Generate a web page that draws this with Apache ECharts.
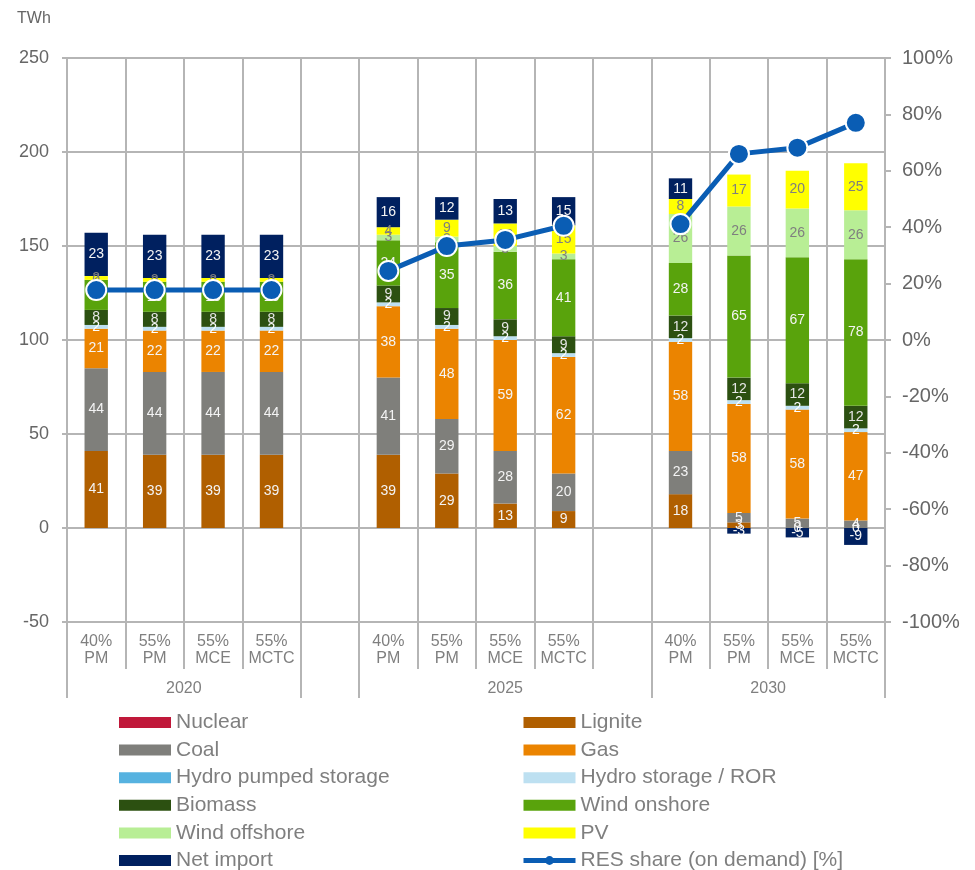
<!DOCTYPE html>
<html>
<head>
<meta charset="utf-8">
<script src="https://cdn.jsdelivr.net/npm/echarts@6/dist/echarts.min.js"></script>
<style>html,body{margin:0;padding:0;background:#fff}#c{width:975px;height:870px}</style>
</head>
<body>
<div id="c"></div>
<script>
// ---- data ----
const scenarios = ['40%\nPM','55%\nPM','55%\nMCE','55%\nMCTC','','40%\nPM','55%\nPM','55%\nMCE','55%\nMCTC','','40%\nPM','55%\nPM','55%\nMCE','55%\nMCTC'];
const yearGroups = ['2020','2025','2030'];
const nuclear      = [0,0,0,0,null,0,0,0,0,null,0,0,0,0];
const lignite      = [41,39,39,39,null,39,29,13,9,null,18,3,0,0];
const coal         = [44,44,44,44,null,41,29,28,20,null,23,5,5,4];
const gas          = [21,22,22,22,null,38,48,59,62,null,58,58,58,47];
const hydroPumped  = [0,0,0,0,null,0,0,0,0,null,0,0,0,0];
const hydroRor     = [2,2,2,2,null,2,2,2,2,null,2,2,2,2];
const biomass      = [8,8,8,8,null,9,9,9,9,null,12,12,12,12];
const windOnshore  = [16,16,16,16,null,24,35,36,41,null,28,65,67,78];
const windOffshore = [0,0,0,0,null,3,3,3,3,null,26,26,26,26];
const pv           = [2,2,2,2,null,4,9,12,15,null,8,17,20,25];
const netImport    = [23,23,23,23,null,16,12,13,15,null,11,-3,-5,-9];
const resShare     = [17.7,17.7,17.7,17.7,null,24.5,33.3,35.5,40.5,null,41.1,66.0,68.2,77.0];

// group axis (half-slot resolution, boundaryGap false)
const groupAxisData = Array(29).fill('');
groupAxisData[4] = yearGroups[0];
groupAxisData[15] = yearGroups[1];
groupAxisData[24] = yearGroups[2];
const groupTicks = [0,8,10,20,28];

const FONT = 'Liberation Sans, Arial, sans-serif';
const GRID = '#b5b5b5';
const TXT = '#7f7f7f';
const LINE = '#0a5db4';

function barSeries(name, data, color, labelColor, showLabel) {
  return {
    name, type: 'bar', stack: 'total', data, barWidth: '40%',
    itemStyle: { color },
    label: {
      show: showLabel, position: 'inside', color: labelColor,
      fontSize: 14, fontFamily: FONT,
      formatter: p => (p.value === null || p.value === undefined) ? '' : String(p.value)
    },
    emphasis: { disabled: true }
  };
}

const legendCommon = {
  orient: 'vertical', top: 707, height: 200, padding: 5,
  itemWidth: 52, itemHeight: 11, itemGap: 6.6,
  textStyle: { fontSize: 21, color: TXT, fontFamily: FONT, lineHeight: 21 }
};

const chart = echarts.init(document.getElementById('c'), null, { renderer: 'canvas' });
const option = {
  animation: false,
  textStyle: { fontFamily: FONT },
  title: { text: 'TWh', left: 12, top: 6, textStyle: { fontSize: 16, fontWeight: 'normal', color: '#666', fontFamily: FONT } },
  grid: { left: 67, right: 90, top: 58, bottom: 248, containLabel: false },
  legend: [
    Object.assign({}, legendCommon, {
      left: 114,
      data: [
        { name: 'Nuclear', icon: 'rect' }, { name: 'Coal', icon: 'rect' },
        { name: 'Hydro pumped storage', icon: 'rect' }, { name: 'Biomass', icon: 'rect' },
        { name: 'Wind offshore', icon: 'rect' }, { name: 'Net import', icon: 'rect' }
      ]
    }),
    Object.assign({}, legendCommon, {
      left: 516,
      data: [
        { name: 'Lignite', icon: 'rect' }, { name: 'Gas', icon: 'rect' },
        { name: 'Hydro storage / ROR', icon: 'rect' }, { name: 'Wind onshore', icon: 'rect' },
        { name: 'PV', icon: 'rect' },
        { name: 'RES share (on demand) [%]', lineStyle: { width: 5, color: LINE }, itemStyle: { color: LINE, borderWidth: 0 } }
      ]
    })
  ],
  xAxis: [
    {
      type: 'category', data: scenarios, position: 'bottom',
      axisLine: { show: true, onZero: false, lineStyle: { color: GRID, width: 2 } },
      axisTick: { show: true, interval: 0, length: 47, lineStyle: { color: GRID, width: 2 } },
      axisLabel: { interval: 0, color: TXT, fontSize: 16, lineHeight: 17, margin: 11, fontFamily: FONT },
      splitLine: { show: true, interval: 0, lineStyle: { color: GRID, width: 2 } }
    },
    {
      type: 'category', data: groupAxisData, position: 'bottom', offset: 47, boundaryGap: false,
      axisLine: { show: false, onZero: false },
      axisTick: { show: true, length: 29, interval: (i) => groupTicks.includes(i), lineStyle: { color: GRID, width: 2 } },
      axisLabel: { interval: 0, color: TXT, fontSize: 16, lineHeight: 17, margin: 11, fontFamily: FONT },
      splitLine: { show: false }
    }
  ],
  yAxis: [
    {
      type: 'value', min: -50, max: 250, interval: 50, position: 'left',
      axisLine: { show: true, lineStyle: { color: GRID, width: 2 } },
      axisTick: { show: true, length: 5, lineStyle: { color: GRID, width: 2 } },
      axisLabel: { color: '#666', fontSize: 18, margin: 18, fontFamily: FONT },
      splitLine: { show: true, lineStyle: { color: GRID, width: 2 } }
    },
    {
      type: 'value', min: -100, max: 100, interval: 20, position: 'right',
      axisLine: { show: true, lineStyle: { color: GRID, width: 2 } },
      axisTick: { show: true, length: 6, lineStyle: { color: GRID, width: 2 } },
      axisLabel: { color: '#666', fontSize: 20, margin: 17, formatter: '{value}%', fontFamily: FONT },
      splitLine: { show: false }
    }
  ],
  series: [
    barSeries('Nuclear', nuclear, '#c0183a', '#fff', false),
    barSeries('Lignite', lignite, '#b05f00', '#f4f4f4', true),
    barSeries('Coal', coal, '#7f7f7b', '#f4f4f4', true),
    barSeries('Gas', gas, '#eb8400', '#f4f4f4', true),
    barSeries('Hydro pumped storage', hydroPumped, '#56b2e0', '#fff', false),
    barSeries('Hydro storage / ROR', hydroRor, '#bde0f1', '#ffffff', true),
    barSeries('Biomass', biomass, '#2c5011', '#e6e6e6', true),
    barSeries('Wind onshore', windOnshore, '#59a30c', '#f4f4f4', true),
    barSeries('Wind offshore', windOffshore, '#b8ee95', '#7f7f7f', true),
    barSeries('PV', pv, '#ffff00', '#7f7f7f', true),
    barSeries('Net import', netImport, '#00205f', '#f4f4f4', true),
    {
      name: 'RES share (on demand) [%]', type: 'line', yAxisIndex: 1, data: resShare,
      connectNulls: false, symbol: 'circle', symbolSize: 20,
      lineStyle: { color: LINE, width: 5 },
      itemStyle: { color: LINE, borderColor: '#fff', borderWidth: 2 },
      z: 5, emphasis: { disabled: true }
    }
  ]
};
chart.setOption(option);
</script>
</body>
</html>
